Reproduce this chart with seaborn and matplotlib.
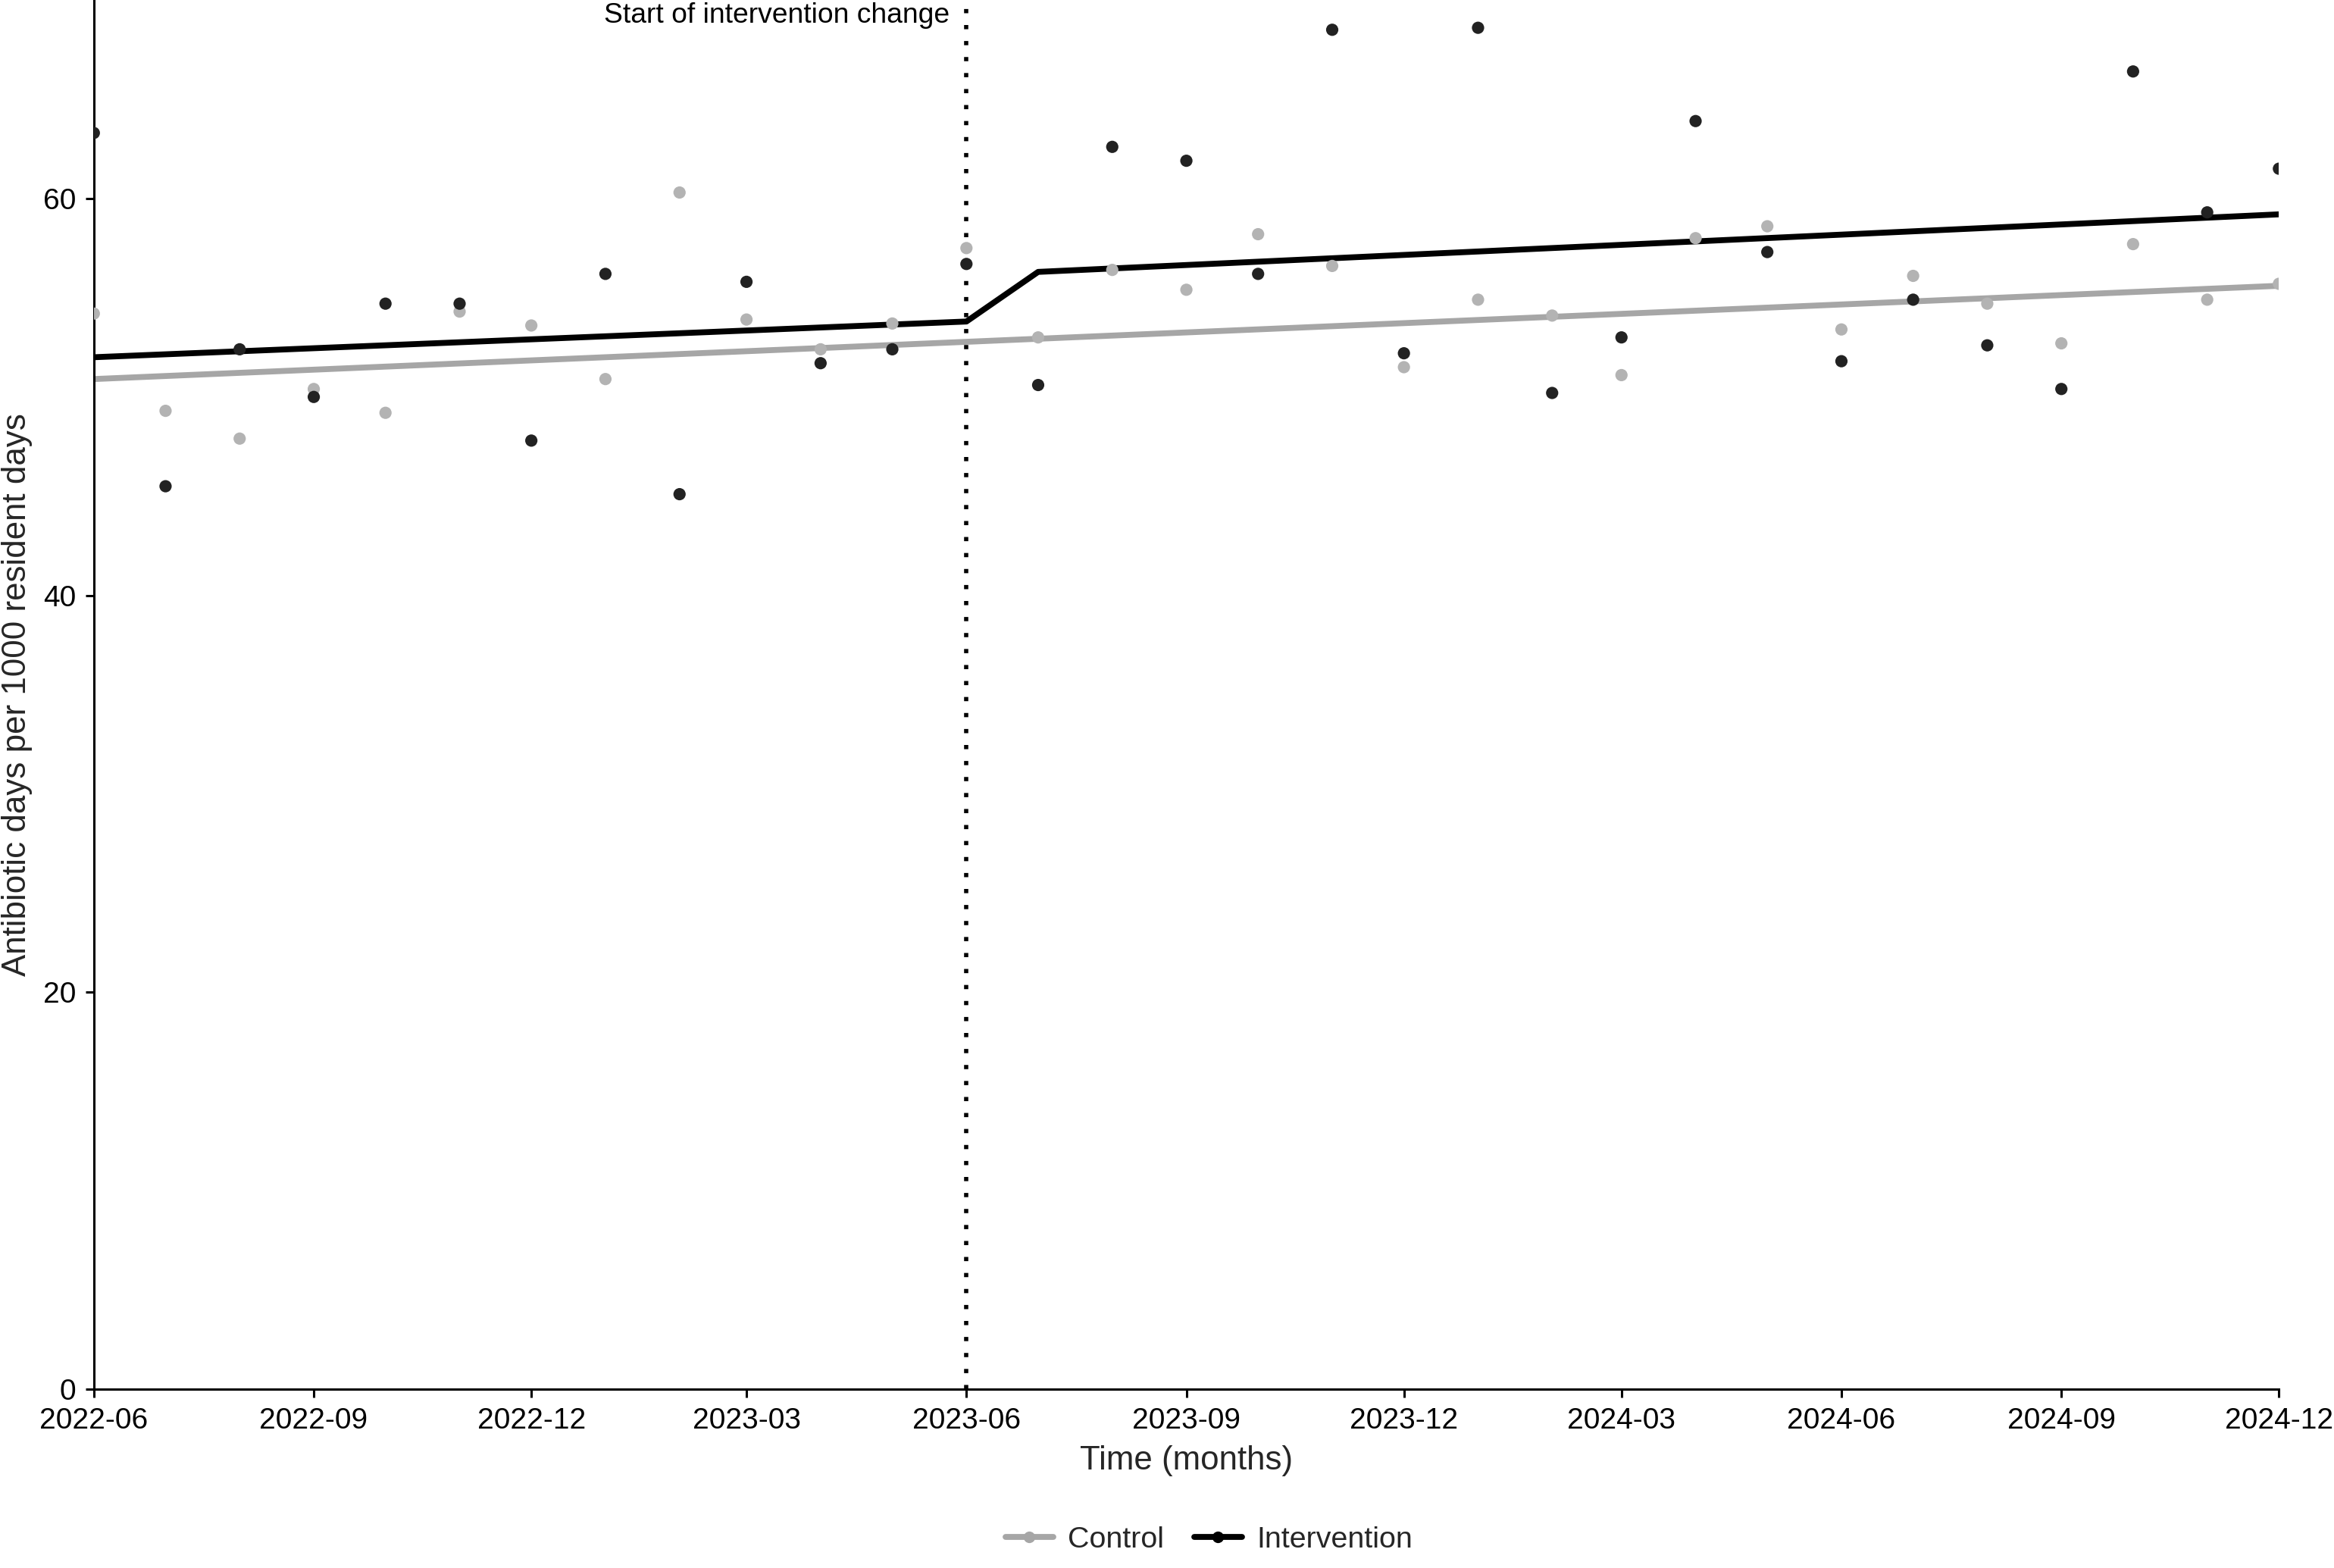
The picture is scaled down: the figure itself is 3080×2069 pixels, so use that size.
import pandas as pd
import seaborn as sns
import matplotlib.pyplot as plt
import matplotlib.dates as mdates
from matplotlib.lines import Line2D

# monthly observations, 2022-06 .. 2024-12
months = pd.date_range("2022-06-01", "2024-12-01", freq="MS")

control = [54.2, 49.3, 47.9, 50.4, 49.2, 54.3, 53.6, 50.9, 60.3, 53.9, 52.4, 53.7,
           57.5, 53.0, 56.4, 55.4, 58.2, 56.6, 51.5, 54.9, 54.1, 51.1, 58.0, 58.6,
           53.4, 56.1, 54.7, 52.7, 57.7, 54.9, 55.7]
intervention = [63.3, 45.5, 52.4, 50.0, 54.7, 54.7, 47.8, 56.2, 45.1, 55.8, 51.7, 52.4,
                56.7, 50.6, 62.6, 61.9, 56.2, 68.5, 52.2, 68.6, 50.2, 53.0, 63.9, 57.3,
                51.8, 54.9, 52.6, 50.4, 66.4, 59.3, 61.5]

# fitted segmented-regression lines (knots)
control_fit_dates = ["2022-06-01", "2024-12-01"]
control_fit = [50.9, 55.6]
interv_fit_dates = ["2022-06-01", "2023-06-01", "2023-07-01", "2024-12-01"]
interv_fit = [52.0, 53.8, 56.3, 59.2]

intervention_start = "2023-06-01"
groups = ["Control", "Intervention"]
point_colors = {"Control": "#b3b3b3", "Intervention": "#222222"}
line_colors = {"Control": "#a6a6a6", "Intervention": "#000000"}

obs = pd.concat([
    pd.DataFrame({"month": months, "rate": control, "group": "Control"}),
    pd.DataFrame({"month": months, "rate": intervention, "group": "Intervention"}),
])
fit = pd.concat([
    pd.DataFrame({"month": pd.to_datetime(control_fit_dates), "rate": control_fit, "group": "Control"}),
    pd.DataFrame({"month": pd.to_datetime(interv_fit_dates), "rate": interv_fit, "group": "Intervention"}),
])

sns.set_theme(style="ticks")
plt.rcParams["font.family"] = ["Liberation Sans", "DejaVu Sans"]

fig = plt.figure(figsize=(15.4, 10.345), dpi=200)
ax = fig.add_axes([0.0402, 0.114, 0.9362, 0.886])

sns.scatterplot(data=obs, x="month", y="rate", hue="group", hue_order=groups,
                palette=point_colors, s=34, linewidth=0, legend=False, ax=ax, zorder=3)
sns.lineplot(data=fit, x="month", y="rate", hue="group", hue_order=groups,
             palette=line_colors, linewidth=2.8, legend=False, ax=ax, zorder=2)

ax.axvline(pd.Timestamp(intervention_start), color="black", linewidth=2.0,
           linestyle=(0, (1, 2.8)), zorder=1)
ax.annotate("Start of intervention change", xy=(pd.Timestamp(intervention_start), 70),
            xytext=(-8, -1), textcoords="offset points", ha="right", va="top",
            fontsize=13.4, color="black")

ax.set_xlim(months[0], months[-1])
ax.set_ylim(0, 70)
ax.set_yticks([0, 20, 40, 60])
ax.set_xticks(months[::3])
ax.xaxis.set_major_formatter(mdates.DateFormatter("%Y-%m"))
ax.tick_params(axis="both", labelsize=14, length=4, width=1.1, color="black",
               labelcolor="black", pad=4.5)
for side in ["left", "bottom"]:
    ax.spines[side].set_linewidth(1.1)
    ax.spines[side].set_color("black")
sns.despine(ax=ax)

ax.set_xlabel("Time (months)", fontsize=15.8, labelpad=5)
ax.set_ylabel("Antibiotic days per 1000 resident days", fontsize=15.8, labelpad=5)

handles = [Line2D([0], [0], color=line_colors[g], lw=2.8, marker="o", markersize=5.5,
                  markerfacecolor=line_colors[g], markeredgewidth=0) for g in groups]
fig.legend(handles, groups, loc="lower center", bbox_to_anchor=(0.518, -0.008), ncol=2,
           frameon=False, fontsize=14.2, handlelength=1.6, columnspacing=1.0, handletextpad=0.5)

fig.savefig("out.png", dpi=200)
